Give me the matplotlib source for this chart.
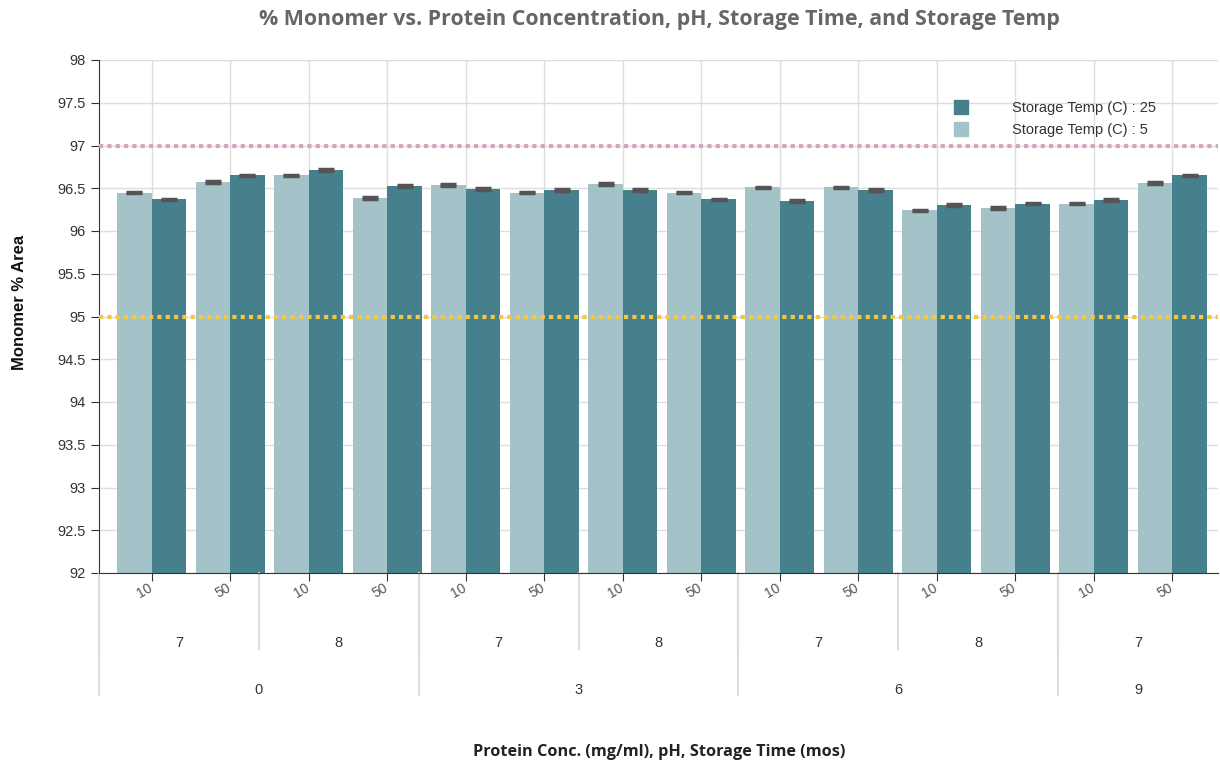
import numpy as np
import matplotlib
matplotlib.use("Agg")
import matplotlib.pyplot as plt
import matplotlib.transforms as mtransforms
from matplotlib.lines import Line2D

# x categories (protein conc, pH, storage time)
conc = ["10", "50", "10", "50", "10", "50", "10", "50", "10", "50", "10", "50", "10", "50"]
ph_labels = ["7", "8", "7", "8", "7", "8", "7"]
time_labels = ["0", "3", "6", "9"]
time_sizes = [4, 4, 4, 2]  # groups per storage time

# % monomer
temp5 = [96.45, 96.57, 96.65, 96.39, 96.54, 96.45, 96.55, 96.45, 96.51, 96.51, 96.24, 96.27, 96.32, 96.56]
temp25 = [96.37, 96.65, 96.71, 96.53, 96.49, 96.48, 96.48, 96.37, 96.35, 96.48, 96.30, 96.32, 96.36, 96.65]
err5 = [0.01] * 14
err25 = [0.01] * 14

upper_limit = 97
lower_limit = 95

c_light = "#a3c3c8"
c_dark = "#45808c"

plt.rcParams['font.family'] = ['Liberation Sans', 'DejaVu Sans']

fig = plt.figure(figsize=(12.2, 7.69), dpi=100)
ax = fig.add_axes([99 / 1220, 1 - 573 / 769, 1119 / 1220, 513 / 769])

n = len(conc)
x = np.arange(n)
w = 0.44

ax.bar(x - w / 2, temp5, width=w, bottom=0, color=c_light, zorder=2)
ax.bar(x + w / 2, temp25, width=w, bottom=0, color=c_dark, zorder=2)
ax.errorbar(x - w / 2, temp5, yerr=err5, fmt="none", ecolor="#555555",
            elinewidth=1.5, capsize=5.5, capthick=2.5, zorder=3)
ax.errorbar(x + w / 2, temp25, yerr=err25, fmt="none", ecolor="#555555",
            elinewidth=1.5, capsize=5.5, capthick=2.5, zorder=3)

ax.axhline(upper_limit, color="#d8a2c2", linestyle=(0, (1, 1)), linewidth=3, zorder=4)
ax.axhline(lower_limit, color="#f4c83c", linestyle=(0, (1, 1)), linewidth=3, zorder=4)

ax.set_ylim(92, 98)
ax.set_xlim(-0.671, 13.58)
yt = np.arange(92, 98.01, 0.5)
ax.set_yticks(yt)
ax.set_yticklabels(["%g" % v for v in yt])
ax.set_xticks(x)
ax.set_xticklabels([])
ax.grid(True, color="#dddddd", linewidth=1, zorder=0)
ax.set_axisbelow(True)
for s in ["top", "right"]:
    ax.spines[s].set_visible(False)
ax.spines["left"].set_color("#333333")
ax.spines["bottom"].set_color("#333333")
ax.tick_params(axis="y", length=6, color="#333333", labelsize=10.5, labelcolor="#333333")
ax.tick_params(axis="x", length=6, color="#333333")

# hierarchical x labels
trans = mtransforms.blended_transform_factory(ax.transData, ax.transAxes)
for i, c in enumerate(conc):
    ax.text(i - 0.05, -0.015, c, transform=trans, rotation=30, rotation_mode="anchor",
            ha="right", va="top", fontsize=10, color="#555555")

sep_kw = dict(transform=ax.transAxes, color="#dddddd", linewidth=1.5, clip_on=False)
for k, lab in enumerate(ph_labels):
    x0 = 2 * k / n
    ax.text(x0 + 1 / n, -0.136, lab, transform=ax.transAxes, ha="center", va="center",
            fontsize=10.5, color="#333333")
    ax.plot([x0, x0], [0, -0.148], **sep_kw)
start = 0
for lab, size in zip(time_labels, time_sizes):
    x0 = start / n
    ax.text(x0 + size / (2 * n), -0.228, lab, transform=ax.transAxes, ha="center", va="center",
            fontsize=10.5, color="#333333")
    ax.plot([x0, x0], [0, -0.238], **sep_kw)
    start += size

handles = [Line2D([], [], marker="s", linestyle="none", markersize=10.5, color=c_dark),
           Line2D([], [], marker="s", linestyle="none", markersize=10.5, color=c_light)]
ax.legend(handles, ["Storage Temp (C) : 25", "Storage Temp (C) : 5"],
          loc="upper left", bbox_to_anchor=(0.752, 0.945), frameon=False,
          handlelength=1, handletextpad=3, labelspacing=0.5, fontsize=10.5,
          labelcolor="#333333")

fig.text(0.5405, 0.975, "% Monomer vs. Protein Concentration, pH, Storage Time, and Storage Temp",
         ha="center", va="center", fontsize=15.4, fontweight="bold", color="#666666",
         family="Open Sans")
fig.text(0.5405, 0.022, "Protein Conc. (mg/ml), pH, Storage Time (mos)",
         ha="center", va="center", fontsize=11.7, fontweight="bold", color="#222222",
         family="Open Sans")
fig.text(0.016, 0.607, "Monomer % Area", rotation=90, ha="center", va="center",
         fontsize=12, fontweight="bold", color="#111111")

fig.savefig("out.png", dpi=100)
